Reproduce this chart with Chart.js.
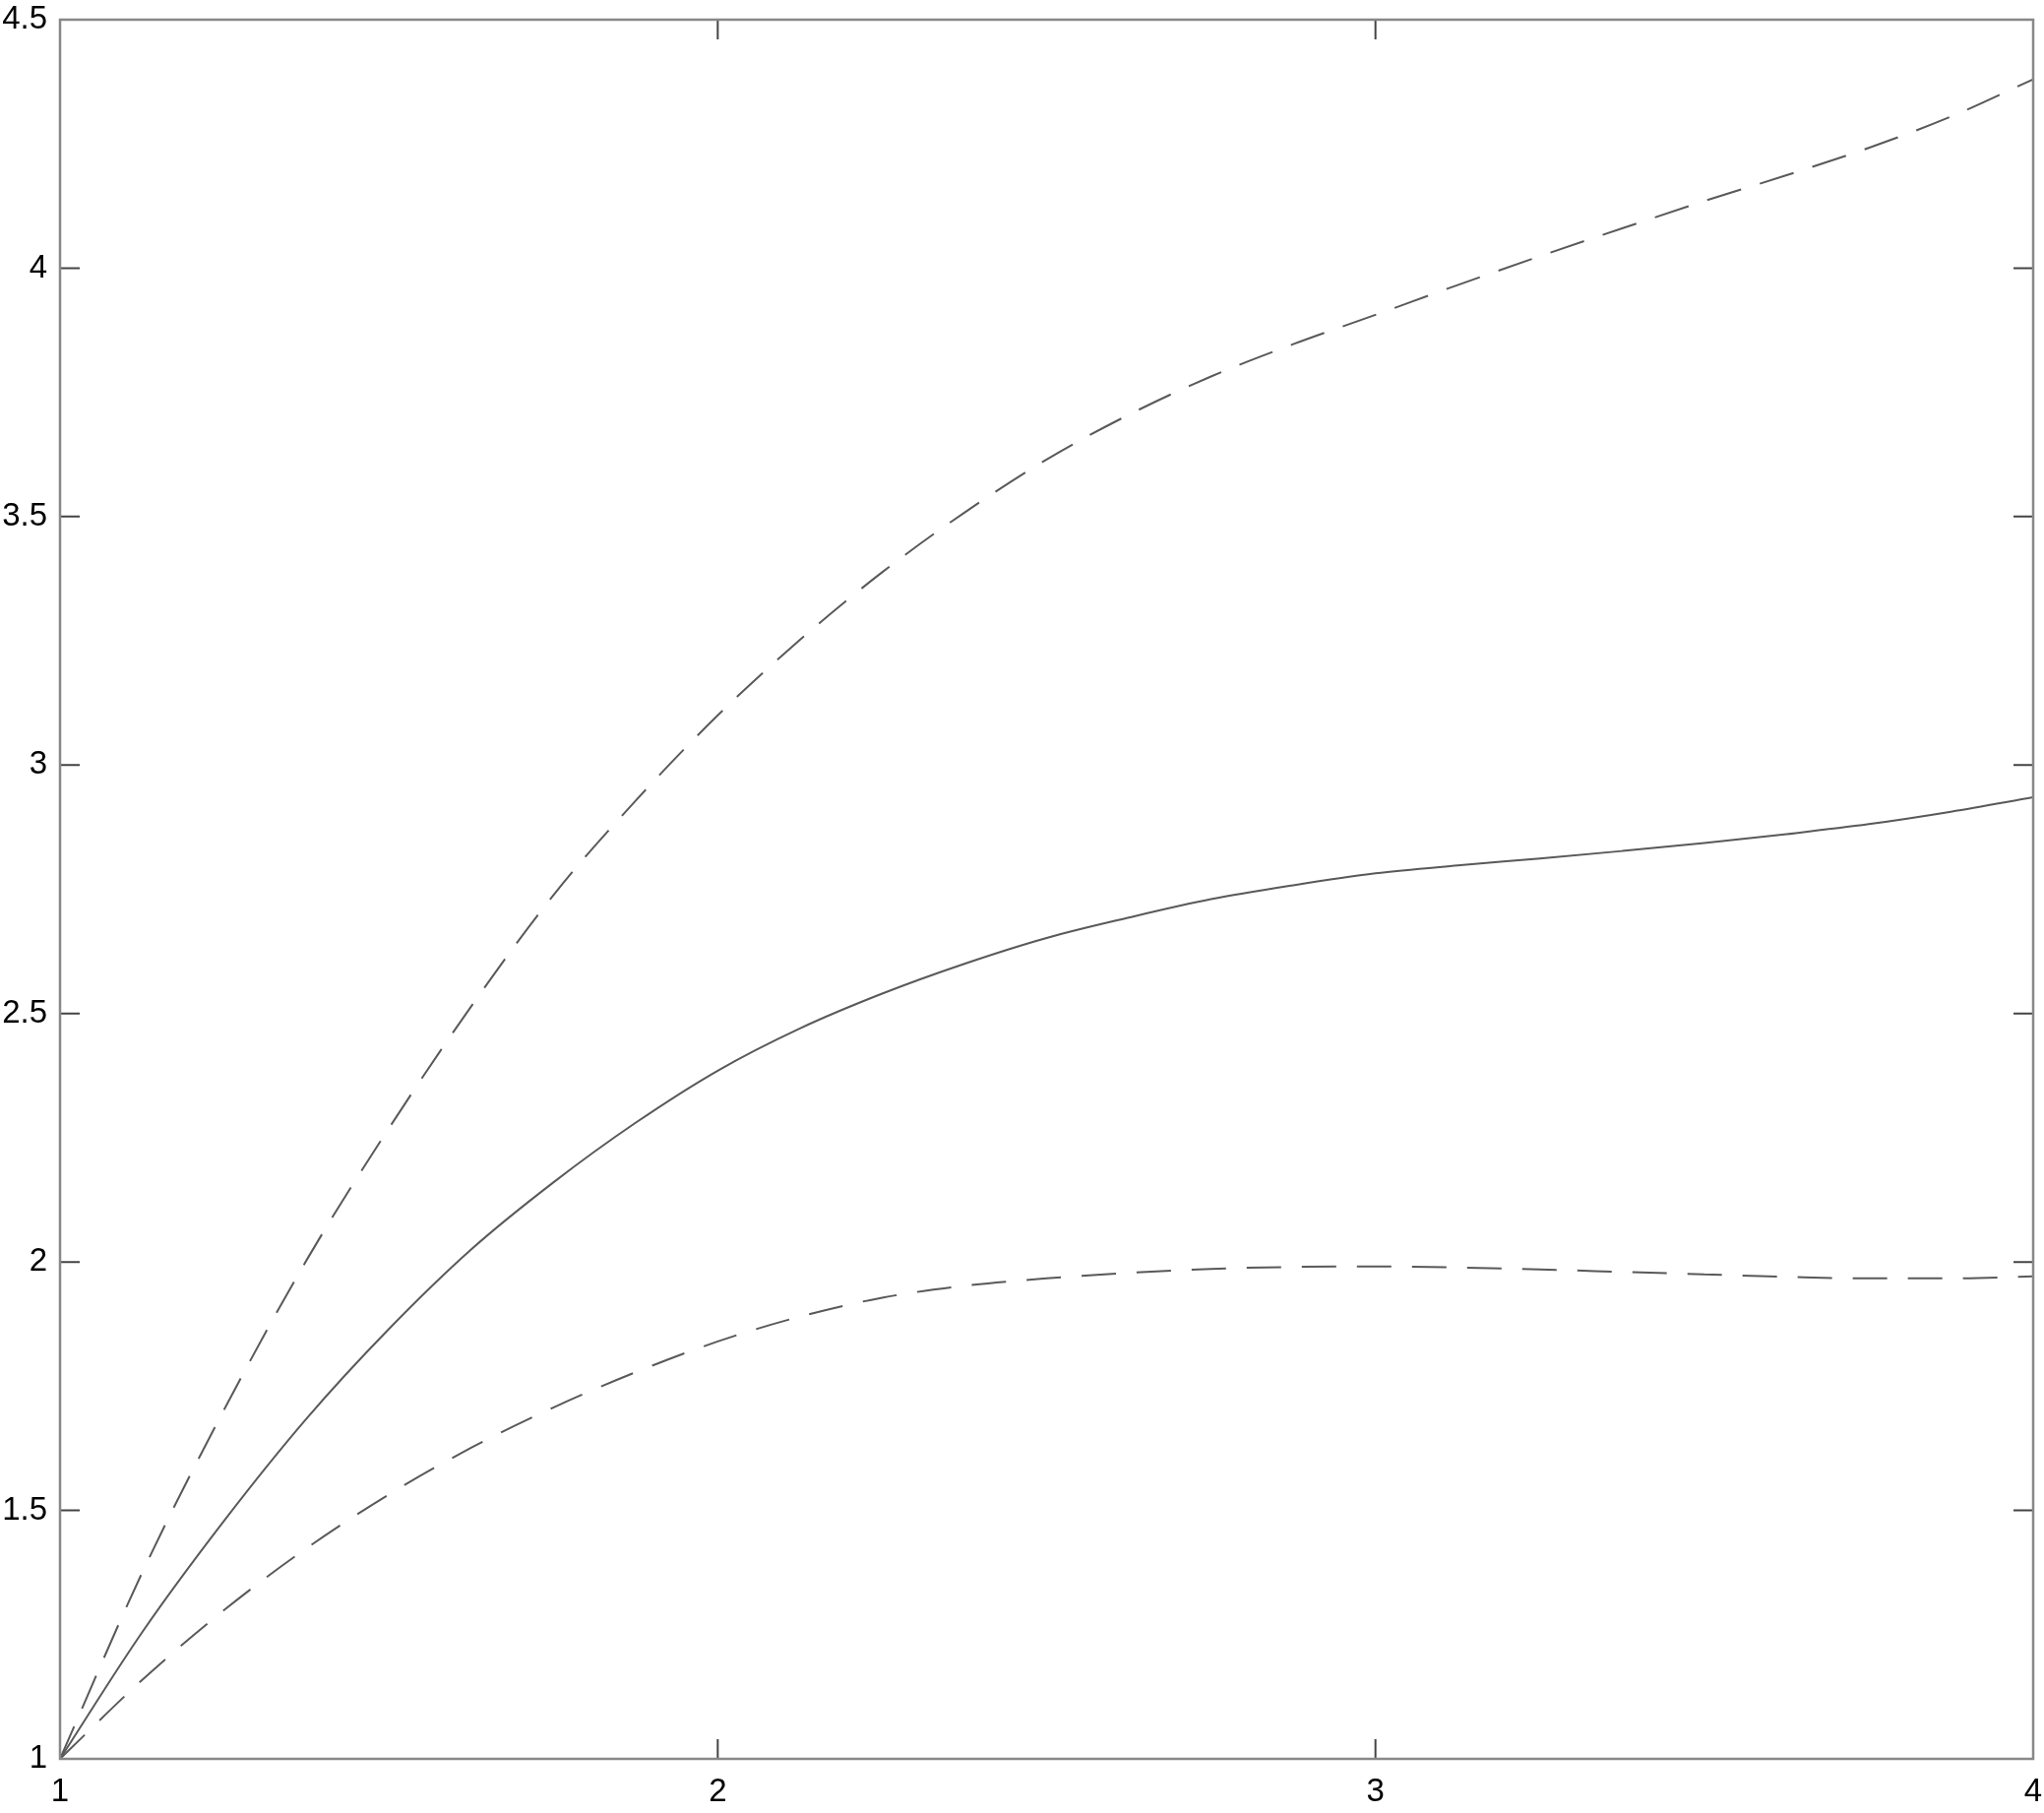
<!DOCTYPE html>
<html>
<head>
<meta charset="utf-8">
<script src="https://cdn.jsdelivr.net/npm/chart.js@4"></script>
<style>
    body { margin: 0; background: #fff; }
    #graph { display: block; }
</style>
</head>
<body>
<canvas id="graph" width="2077" height="1842"></canvas>
<script>
// values, x in steps of 0.125
const xs = [1, 1.125, 1.25, 1.375, 1.5, 1.625, 1.75, 1.875, 2,
    2.125, 2.25, 2.375, 2.5, 2.625, 2.75, 2.875, 3,
    3.125, 3.25, 3.375, 3.5, 3.625, 3.75, 3.875, 4];
const middle = [1, 1.255, 1.48, 1.685, 1.865, 2.025, 2.16, 2.28, 2.385,
    2.47, 2.54, 2.60, 2.652, 2.693, 2.73, 2.758, 2.782,
    2.798, 2.812, 2.827, 2.843, 2.861, 2.881, 2.906, 2.935];
const upper = [1, 1.375, 1.704, 2.004, 2.269, 2.514, 2.738, 2.928, 3.10,
    3.252, 3.388, 3.508, 3.615, 3.705, 3.782, 3.847, 3.906,
    3.966, 4.024, 4.08, 4.135, 4.187, 4.242, 4.305, 4.38];
const lower = [1, 1.159, 1.30, 1.424, 1.532, 1.626, 1.707, 1.778, 1.84,
    1.89, 1.928, 1.952, 1.967, 1.978, 1.986, 1.99, 1.991,
    1.989, 1.985, 1.98, 1.975, 1.97, 1.967, 1.967, 1.971];
const xTicks = [1, 2, 3, 4];
const yTicks = [1, 1.5, 2, 2.5, 3, 3.5, 4, 4.5];

function toPoints(ys) {
    return xs.map((x, i) => ({ x: x, y: ys[i] }));
}

// box round the plot and ticks pointing inwards on all four sides
const frame = {
    id: 'frame',
    afterDraw(chart) {
        const ctx = chart.ctx;
        const a = chart.chartArea;
        const sx = chart.scales.x;
        const sy = chart.scales.y;
        const len = 20;
        ctx.save();
        ctx.strokeStyle = '#444';
        ctx.lineWidth = 2;
        ctx.beginPath();
        xTicks.forEach(v => {
            const px = sx.getPixelForValue(v);
            ctx.moveTo(px, a.bottom); ctx.lineTo(px, a.bottom - len);
            ctx.moveTo(px, a.top); ctx.lineTo(px, a.top + len);
        });
        yTicks.forEach(v => {
            const py = sy.getPixelForValue(v);
            ctx.moveTo(a.left, py); ctx.lineTo(a.left + len, py);
            ctx.moveTo(a.right, py); ctx.lineTo(a.right - len, py);
        });
        ctx.stroke();
        ctx.strokeStyle = '#888';
        ctx.lineWidth = 2.5;
        ctx.strokeRect(a.left, a.top, a.right - a.left, a.bottom - a.top);
        ctx.restore();
    }
};

const lineStyle = {
    borderColor: '#595959',
    borderWidth: 2,
    pointRadius: 0,
    fill: false,
    cubicInterpolationMode: 'monotone'
};

const ctx = document.getElementById('graph').getContext('2d');
new Chart(ctx, {
    type: 'line',
    data: {
        datasets: [
            Object.assign({ label: 'upper', data: toPoints(upper), borderDash: [36, 20] }, lineStyle),
            Object.assign({ label: 'middle', data: toPoints(middle) }, lineStyle),
            Object.assign({ label: 'lower', data: toPoints(lower), borderDash: [35, 21] }, lineStyle)
        ]
    },
    options: {
        responsive: false,
        animation: false,
        layout: {
            padding: { top: 20, right: 11, left: 0, bottom: 0 }
        },
        plugins: {
            legend: { display: false },
            tooltip: { enabled: false }
        },
        scales: {
            x: {
                type: 'linear',
                min: 1,
                max: 4,
                afterBuildTicks: s => { s.ticks = xTicks.map(v => ({ value: v })); },
                afterFit: s => {
                    s.height = 55;
                    s.paddingLeft = 0;
                    s.paddingRight = 0;
                },
                grid: { display: false, drawTicks: false },
                border: { display: false },
                ticks: {
                    color: '#000',
                    padding: 14,
                    maxRotation: 0,
                    callback: v => String(v),
                    font: { family: 'Liberation Sans', size: 33 }
                }
            },
            y: {
                type: 'linear',
                min: 1,
                max: 4.5,
                afterBuildTicks: s => { s.ticks = yTicks.map(v => ({ value: v })); },
                afterFit: s => {
                    s.width = 61;
                    s.paddingTop = 0;
                    s.paddingBottom = 0;
                },
                grid: { display: false, drawTicks: false },
                border: { display: false },
                ticks: {
                    color: '#000',
                    padding: 13,
                    callback: v => String(v),
                    font: { family: 'Liberation Sans', size: 33 }
                }
            }
        }
    },
    plugins: [frame]
});
</script>
</body>
</html>
